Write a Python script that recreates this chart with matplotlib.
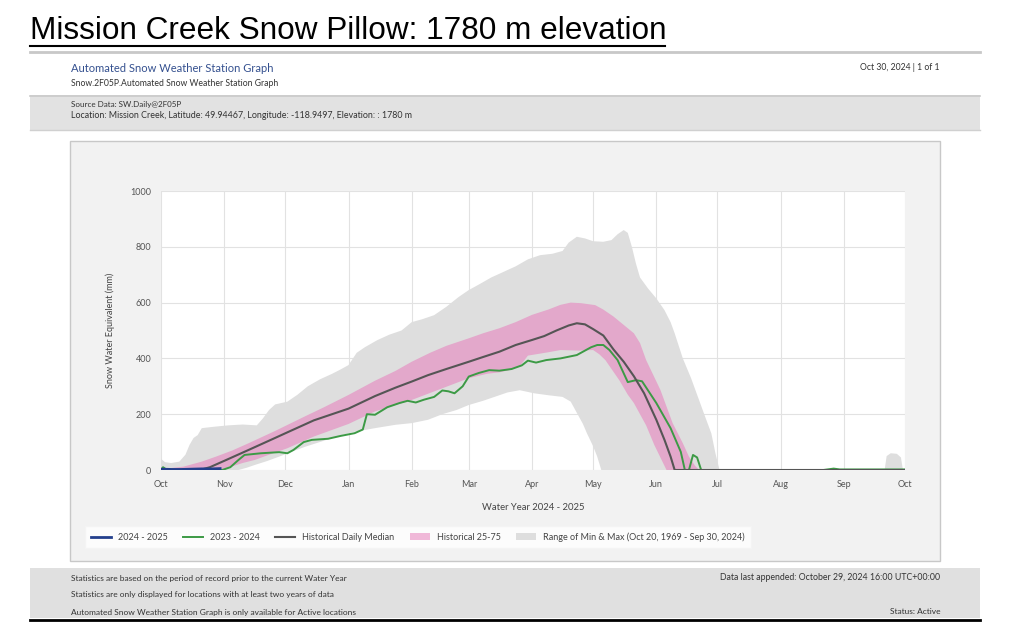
import numpy as np
import matplotlib
matplotlib.use('Agg')
import matplotlib.pyplot as plt
from matplotlib.patches import Rectangle, Patch
from matplotlib.lines import Line2D

plt.rcParams['font.family'] = ['Lato', 'DejaVu Sans']

# ---- data (day = days since Oct 1, value = SWE mm) ----
month_labels = ['Oct', 'Nov', 'Dec', 'Jan', 'Feb', 'Mar', 'Apr', 'May', 'Jun', 'Jul', 'Aug', 'Sep', 'Oct']
month_days = [0, 31, 61, 92, 123, 151, 182, 212, 243, 273, 304, 335, 365]

# Range of min & max
max_day = [0, 2, 5, 9, 12, 14, 16, 18, 20, 26, 33, 40, 47, 50, 53, 56, 62, 67, 72, 78, 84, 88, 92, 96,
           100, 106, 112, 118, 123, 128, 134, 140, 146, 151, 156, 162, 168, 174, 180, 186, 192, 197,
           200, 204, 208, 212, 217, 221, 224, 227, 229, 231, 233, 235, 239, 243, 247, 250, 252, 256,
           260, 264, 267, 270, 272, 274, 355, 356, 358, 361, 363, 364, 365]
max_val = [40, 28, 25, 30, 55, 90, 115, 125, 150, 155, 160, 163, 160, 185, 215, 235, 245, 270, 300, 325,
           345, 360, 376, 420, 440, 465, 485, 500, 530, 540, 555, 585, 620, 645, 665, 690, 710, 730, 755,
           770, 775, 785, 815, 836, 830, 820, 818, 824, 845, 860, 850, 800, 740, 690, 650, 615, 573, 530,
           490, 400, 330, 250, 190, 131, 60, 0, 0, 50, 60, 58, 45, 0, 0]
min_day = [0, 38, 42, 46, 52, 58, 65, 71, 80, 87, 95, 105, 115, 123, 131, 138, 145, 151, 158, 164, 170,
           176, 183, 190, 197, 201, 204, 207, 209, 212, 214, 216, 365]
min_val = [0, 0, 8, 18, 32, 48, 68, 84, 105, 122, 137, 150, 162, 168, 180, 200, 215, 233, 248, 263, 278,
           286, 275, 268, 262, 245, 205, 165, 131, 85, 48, 0, 0]

# Historical 25-75
p75_day = [0, 11, 20, 27, 35, 43, 56, 70, 80, 92, 105, 115, 123, 132, 140, 151, 158, 166, 174, 182, 190,
           196, 201, 206, 213, 217, 222, 227, 232, 235, 238, 245, 251, 256, 259, 262, 264]
p75_val = [3, 12, 30, 48, 70, 96, 140, 190, 225, 269, 320, 355, 388, 420, 445, 472, 490, 508, 530, 556,
           575, 592, 600, 598, 591, 575, 550, 520, 490, 455, 394, 287, 168, 96, 48, 15, 0]
p25_day = [0, 28, 32, 40, 46, 55, 62, 75, 92, 105, 123, 137, 151, 160, 166, 172, 176, 180, 190, 196, 205,
           212, 215, 218, 225, 229, 232, 238, 242, 246, 248]
p25_val = [0, 0, 6, 25, 36, 60, 78, 120, 165, 210, 251, 290, 329, 345, 350, 360, 372, 410, 422, 430, 428,
           430, 415, 394, 320, 270, 240, 160, 90, 30, 0]

# Historical daily median
med_day = [0, 19, 24, 32, 43, 56, 62, 75, 92, 105, 115, 123, 131, 140, 151, 158, 166, 174, 182, 188, 194,
           200, 204, 208, 212, 217, 222, 227, 232, 237, 243, 247, 250, 252, 365]
med_val = [0, 0, 10, 36, 72, 115, 135, 178, 220, 265, 295, 317, 340, 362, 388, 405, 424, 448, 466, 480,
           500, 518, 526, 522, 505, 482, 432, 388, 336, 275, 180, 108, 48, 0, 0]

# 2023 - 2024
wy23_day = [0, 1, 3, 30, 34, 38, 41, 49, 58, 62, 65, 70, 74, 82, 88, 95, 99, 101, 105, 111, 117, 121, 125,
            129, 134, 138, 141, 144, 148, 151, 156, 161, 166, 172, 177, 180, 184, 189, 196, 204, 211, 214,
            217, 220, 224, 229, 233, 236, 243, 250, 255, 257, 259, 261, 263, 265, 325, 330, 333, 365]
wy23_val = [0, 10, 0, 0, 10, 36, 54, 60, 64, 60, 72, 100, 108, 112, 122, 132, 145, 200, 198, 225, 240, 248,
            242, 252, 262, 285, 282, 275, 300, 335, 348, 358, 356, 362, 375, 392, 385, 394, 400, 412, 440,
            448, 448, 430, 394, 315, 322, 318, 240, 150, 65, 0, 0, 54, 45, 0, 0, 5, 2, 2]

# 2024 - 2025
wy24_day = [0, 5, 10, 15, 20, 25, 29]
wy24_val = [3, 2, 2, 3, 4, 4, 5]


def fx(px):
    return px / 1024


def fy(py):
    return 1 - py / 643


fig = plt.figure(figsize=(10.24, 6.43), dpi=100)
fig.patch.set_facecolor('white')

# page title
fig.text(fx(30), fy(31), 'Mission Creek Snow Pillow: 1780 m elevation', family='Liberation Sans',
         fontsize=22.7, va='center', ha='left', color='black')
fig.add_artist(Line2D([fx(30), fx(665)], [fy(46), fy(46)], color='black', lw=1.5))
fig.add_artist(Line2D([fx(30), fx(980)], [fy(52), fy(52)], color='#c8c8c8', lw=2))

# report header
fig.text(fx(71), fy(68), 'Automated Snow Weather Station Graph', fontsize=8, color='#34508f', va='center')
fig.text(fx(71), fy(83), 'Snow.2F05P.Automated Snow Weather Station Graph', fontsize=6.2, color='#333333',
         va='center')
fig.text(fx(940), fy(68), 'Oct 30, 2024 | 1 of 1', fontsize=6.2, color='#333333', va='center', ha='right')
fig.add_artist(Rectangle((fx(30), fy(130)), fx(950), 35 / 643, facecolor='#e2e2e2', edgecolor='none',
                         zorder=-5))
fig.add_artist(Line2D([fx(30), fx(980)], [fy(96), fy(96)], color='#c9c9c9', lw=1.2))
fig.add_artist(Line2D([fx(30), fx(980)], [fy(130), fy(130)], color='#d0d0d0', lw=1))
fig.text(fx(71), fy(104), 'Source Data: SW.Daily@2F05P', fontsize=5.8, color='#333333', va='center')
fig.text(fx(71), fy(116), 'Location: Mission Creek, Latitude: 49.94467, Longitude: -118.9497, Elevation: : 1780 m',
         fontsize=6.4, color='#333333', va='center')

# chart panel
fig.add_artist(Rectangle((fx(70), fy(561)), fx(870), 420 / 643, facecolor='#f2f2f2', edgecolor='#c8c8c8',
                         lw=1, zorder=-5))

ax = fig.add_axes([fx(161), fy(470), fx(744), 279 / 643])
ax.set_zorder(2)
ax.set_facecolor('white')
ax.fill(max_day + min_day[::-1], max_val + min_val[::-1], color='#dedede', lw=0, zorder=1)
ax.fill(p75_day + p25_day[::-1], p75_val + p25_val[::-1], color='#e3a8cb', lw=0, zorder=2)
ax.plot(med_day, med_val, color='#555555', lw=1.5, zorder=4)
ax.plot(wy23_day, wy23_val, color='#3c9a45', lw=1.4, zorder=3)
ax.plot(wy24_day, wy24_val, color='#233f8c', lw=2, zorder=5)

ax.set_xlim(0, 365)
ax.set_ylim(0, 1000)
ax.set_xticks(month_days)
ax.set_xticklabels(month_labels)
ax.set_yticks(range(0, 1001, 200))
ax.grid(True, color='#e2e2e2', lw=0.8)
ax.set_axisbelow(True)
ax.tick_params(length=0, labelsize=6.5, labelcolor='#555555', pad=7)
for s in ax.spines.values():
    s.set_visible(False)
ax.set_xlabel('Water Year 2024 - 2025', fontsize=6.8, color='#444444', labelpad=10)
ax.set_ylabel('Snow Water Equivalent (mm)', fontsize=6.5, color='#444444', labelpad=11)

handles = [Line2D([], [], color='#233f8c', lw=2),
           Line2D([], [], color='#3c9a45', lw=1.4),
           Line2D([], [], color='#555555', lw=1.5),
           Patch(facecolor='#f0b8d8', edgecolor='none'),
           Patch(facecolor='#dedede', edgecolor='none')]
labels = ['2024 - 2025', '2023 - 2024', 'Historical Daily Median', 'Historical 25-75',
          'Range of Min & Max (Oct 20, 1969 - Sep 30, 2024)']
leg = fig.legend(handles, labels, loc='center left', bbox_to_anchor=(fx(80), fy(537)), ncol=5,
                 fontsize=6.5, frameon=True, facecolor='white', edgecolor='#f4f4f4', fancybox=False,
                 handlelength=2.2, columnspacing=1.7, handletextpad=0.8, borderpad=0.7)
for t in leg.get_texts():
    t.set_color('#444444')

# footer
fig.add_artist(Rectangle((fx(30), fy(618)), fx(950), 50 / 643, facecolor='#e0e0e0', edgecolor='none',
                         zorder=-5))
fig.add_artist(Line2D([fx(30), fx(980)], [fy(620), fy(620)], color='black', lw=2))
fig.text(fx(71), fy(578), 'Statistics are based on the period of record prior to the current Water Year',
         fontsize=6.0, color='#333333', va='center')
fig.text(fx(71), fy(595), 'Statistics are only displayed for locations with at least two years of data',
         fontsize=6.0, color='#333333', va='center')
fig.text(fx(71), fy(612), 'Automated Snow Weather Station Graph is only available for Active locations',
         fontsize=6.0, color='#333333', va='center')
fig.text(fx(940), fy(578), 'Data last appended: October 29, 2024 16:00 UTC+00:00', fontsize=6.3,
         color='#333333', va='center', ha='right')
fig.text(fx(940), fy(612), 'Status: Active', fontsize=6.0, color='#333333', va='center', ha='right')

fig.savefig('out.png', dpi=100)
